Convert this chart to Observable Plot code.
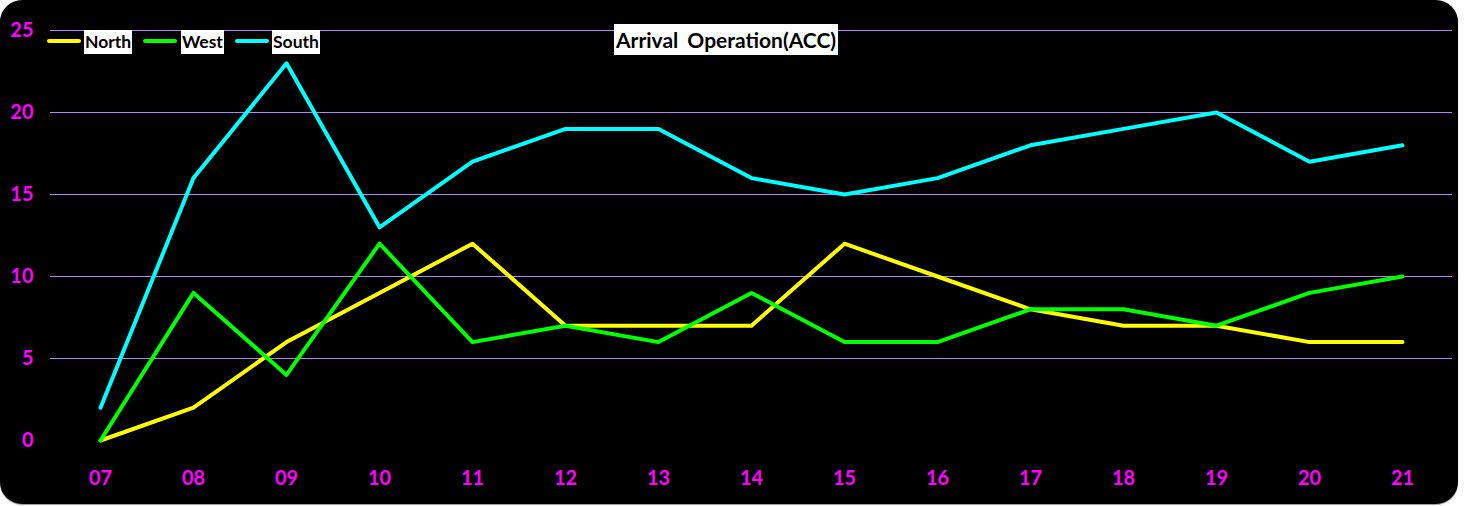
<!DOCTYPE html>
<html>
<head>
<meta charset="utf-8">
<script src="https://cdn.jsdelivr.net/npm/d3@7"></script>
<script src="https://cdn.jsdelivr.net/npm/@observablehq/plot@0.6"></script>
<style>
  html, body { margin: 0; padding: 0; background: #ffffff; }
  #wrap { position: relative; width: 1464px; height: 506px; overflow: hidden; }
  #panel { position: absolute; left: 0; top: 0; width: 1458px; height: 504px; background: #000; border-radius: 22px; box-shadow: 0 1px 1px #999; }
  #chart { position: absolute; left: 0; top: 0; }
  .lbl { position: absolute; background: #fff; color: #000; font-family: Lato, "Open Sans", sans-serif; font-weight: 700; line-height: 1; white-space: nowrap; }
  .swatch { position: absolute; height: 4px; border-radius: 2px; }
</style>
</head>
<body>
<div id="wrap">
  <div id="panel"></div>
  <div id="chart"></div>
</div>
<script>
const hours = ["07","08","09","10","11","12","13","14","15","16","17","18","19","20","21"];
const north = [0, 2, 6, 9, 12, 7, 7, 7, 12, 10, 8, 7, 7, 6, 6];
const west  = [0, 9, 4, 12, 6, 7, 6, 9, 6, 6, 8, 8, 7, 9, 10];
const south = [2, 16, 23, 13, 17, 19, 19, 16, 15, 16, 18, 19, 20, 17, 18];
const seriesNames = ["North", "West", "South"];
const seriesColors = ["#ffff00", "#00ff00", "#00ffff"];
const yTicks = [0, 5, 10, 15, 20, 25];
const gridTicks = [5, 10, 15, 20, 25];
const title = "Arrival Operation(ACC)";

const table = [];
[north, west, south].forEach((arr, si) => {
  arr.forEach((v, i) => table.push({hour: hours[i], value: v, series: seriesNames[si]}));
});

const plot = Plot.plot({
  width: 1464,
  height: 506,
  marginLeft: 50,
  marginRight: 12,
  marginTop: 30,
  marginBottom: 66,
  style: { background: "transparent", fontFamily: "Lato, 'Open Sans', sans-serif", fontSize: "20px", fontWeight: "bold" },
  x: { type: "point", domain: hours, padding: 0.52 },
  y: { domain: [0, 25] },
  color: { domain: seriesNames, range: seriesColors },
  marks: [
    Plot.ruleY(gridTicks, { stroke: "#b784f5", strokeWidth: 1.2 }),
    Plot.axisY(yTicks, { tickSize: 0, tickPadding: 17, fill: "#ff00ff", fontSize: 20, fontWeight: "bold", label: null }),
    Plot.axisX(hours, { tickSize: 0, tickPadding: 30, fill: "#ff00ff", fontSize: 20, fontWeight: "bold", label: null }),
    Plot.line(table, { x: "hour", y: "value", z: "series", stroke: "series", strokeWidth: 4, strokeLinejoin: "round" })
  ]
});
document.getElementById("chart").appendChild(plot);

// legend + title overlays
const wrap = document.getElementById("wrap");
const legendPos = [
  { sx: 47, lx: 84 },
  { sx: 143, lx: 181 },
  { sx: 235, lx: 272 }
];
seriesNames.forEach((name, i) => {
  const sw = document.createElement("div");
  sw.className = "swatch";
  sw.style.left = legendPos[i].sx + "px";
  sw.style.top = "39px";
  sw.style.width = "34px";
  sw.style.background = seriesColors[i];
  wrap.appendChild(sw);
  const lb = document.createElement("div");
  lb.className = "lbl";
  lb.textContent = name;
  lb.style.left = legendPos[i].lx + "px";
  lb.style.top = "30px";
  lb.style.fontSize = "17.5px";
  lb.style.padding = "3px 1px 3px 1px";
  wrap.appendChild(lb);
});
const t = document.createElement("div");
t.className = "lbl";
t.textContent = title;
t.style.left = "614px";
t.style.top = "24px";
t.style.fontSize = "21px";
t.style.padding = "5px 2px 5px 2px";
t.style.wordSpacing = "4px";
wrap.appendChild(t);
</script>
</body>
</html>
